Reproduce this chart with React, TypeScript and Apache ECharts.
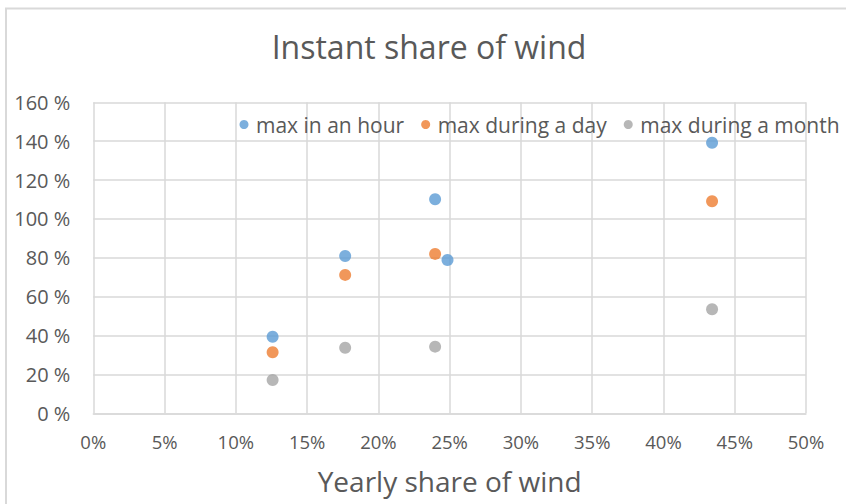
import React, { useEffect, useRef } from "react";
import * as echarts from "echarts";

const title = "Instant share of wind";
const xAxisTitle = "Yearly share of wind";
const seriesNames = ["max in an hour", "max during a day", "max during a month"];
const seriesColors = ["#5B9BD5", "#ED7D31", "#A5A5A5"];

// yearly share of wind (%) and instant share (%)
const hourX = [12.58, 17.67, 23.98, 24.85, 43.41];
const hourY = [39.4, 80.9, 110.1, 78.9, 139.2];
const dayX = [12.58, 17.67, 23.98, 43.41];
const dayY = [31.4, 71.2, 82.0, 109.1];
const monthX = [12.58, 17.67, 23.98, 43.41];
const monthY = [17.1, 33.75, 34.3, 53.5];

const xMin = 0;
const xMax = 50;
const xStep = 5;
const yMin = 0;
const yMax = 160;
const yStep = 20;

const FONT = "'Open Sans', 'Noto Sans', sans-serif";
const TEXT = "#595959";
const GRID = "#D9D9D9";

function pairs(xs: number[], ys: number[]) {
  return xs.map((x, i) => [x, ys[i]]);
}

export default function App() {
  const ref = useRef<HTMLDivElement>(null);
  useEffect(() => {
    if (!ref.current) return;
    const chart = echarts.init(ref.current, null, { renderer: "svg" });
    const data = [pairs(hourX, hourY), pairs(dayX, dayY), pairs(monthX, monthY)];
    chart.setOption({
      animation: false,
      backgroundColor: "#ffffff",
      textStyle: { fontFamily: FONT },
      title: {
        text: title,
        left: 429,
        top: 30,
        padding: 0,
        textAlign: "center",
        textStyle: { fontFamily: FONT, fontSize: 32, fontWeight: "normal", color: TEXT },
      },
      graphic: [
        {
          type: "rect",
          silent: true,
          z: -10,
          shape: { x: 6, y: 8.5, width: 1200, height: 1200 },
          style: { fill: "none", stroke: GRID, lineWidth: 2 },
        },
      ],
      legend: {
        left: 239.5,
        top: 114,
        padding: 0,
        width: 700,
        itemWidth: 14,
        itemHeight: 9,
        itemGap: 17,
        icon: "circle",
        textStyle: { fontFamily: FONT, fontSize: 21, color: TEXT },
        data: seriesNames,
      },
      grid: { left: 93.3, right: 40, top: 102.3, bottom: 90.7 },
      xAxis: {
        type: "value",
        min: xMin,
        max: xMax,
        interval: xStep,
        name: xAxisTitle,
        nameLocation: "middle",
        nameGap: 54,
        nameTextStyle: { fontFamily: FONT, fontSize: 28, color: TEXT },
        axisLine: { show: true, lineStyle: { color: GRID, width: 1.5 } },
        axisTick: { show: false },
        axisLabel: {
          margin: 19,
          fontFamily: FONT,
          fontSize: 18.5,
          color: TEXT,
          formatter: (v: number) => `${v}%`,
        },
        splitLine: { show: true, lineStyle: { color: GRID, width: 1.5 } },
      },
      yAxis: {
        type: "value",
        min: yMin,
        max: yMax,
        interval: yStep,
        axisLine: { show: false },
        axisTick: { show: false },
        axisLabel: {
          margin: 23,
          fontFamily: FONT,
          fontSize: 20,
          color: TEXT,
          formatter: (v: number) => `${v} %`,
        },
        splitLine: { show: true, lineStyle: { color: GRID, width: 1.5 } },
      },
      series: seriesNames.map((name, i) => ({
        name,
        type: "scatter",
        symbol: "circle",
        symbolSize: 12,
        itemStyle: { color: seriesColors[i] },
        data: data[i],
      })),
    });
    return () => chart.dispose();
  }, []);
  return (
    <div
      ref={ref}
      style={{ position: "fixed", left: 0, top: 0, width: 846, height: 504 }}
    />
  );
}
